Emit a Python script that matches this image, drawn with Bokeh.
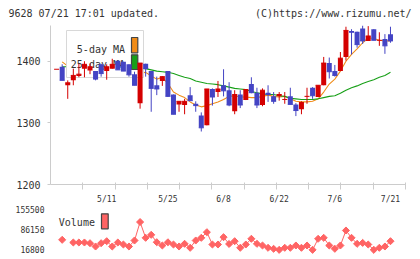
import math
from bokeh.plotting import figure
from bokeh.layouts import column
from bokeh.models import ColumnDataSource, FixedTicker, Range1d, NumeralTickFormatter
from bokeh.core.properties import value
from bokeh.embed import file_html
from bokeh.resources import INLINE

nan = float("nan")

# ---------------- data ----------------
open_ = [1387, 1391, 1361, 1369, 1376, 1388, 1385, 1384, 1395, 1384,
         1388, 1401, 1399, 1395, 1379, 1332, 1396, 1384, 1361, 1368,
         1384, 1346, 1330, 1329, 1345, 1331, 1312, 1296, 1355, 1350,
         1361, 1353, 1319, 1346, 1337, 1363, 1349, 1329, 1349, 1343,
         1343, 1338, 1343, 1330, 1322, 1343, 1357, 1342, 1361, 1397,
         1384, 1384, 1407, 1449, 1448, 1453, 1433, 1452, 1434, 1436, 1444]
high = [1387, 1395, 1369, 1388, 1396, 1400, 1396, 1384, 1396, 1395,
        1404, 1401, 1399, 1395, 1383, 1397, 1396, 1384, 1375, 1376,
        1384, 1346, 1335, 1339, 1358, 1335, 1317, 1355, 1356, 1368,
        1387, 1366, 1353, 1353, 1354, 1374, 1357, 1356, 1361, 1350,
        1350, 1350, 1357, 1332, 1335, 1357, 1358, 1361, 1407, 1406,
        1394, 1415, 1456, 1452, 1448, 1458, 1457, 1452, 1447, 1444, 1456]
low = [1387, 1369, 1339, 1361, 1374, 1374, 1379, 1369, 1375, 1370,
       1388, 1386, 1384, 1375, 1361, 1323, 1375, 1318, 1345, 1360,
       1342, 1314, 1318, 1314, 1336, 1318, 1286, 1296, 1328, 1342,
       1343, 1327, 1314, 1324, 1337, 1348, 1324, 1327, 1334, 1331,
       1336, 1331, 1330, 1311, 1314, 1331, 1339, 1342, 1361, 1372,
       1375, 1384, 1401, 1411, 1422, 1428, 1433, 1434, 1425, 1412, 1430]
close = [1387, 1369, 1365, 1377, 1379, 1395, 1391, 1371, 1380, 1391,
         1395, 1386, 1384, 1378, 1361, 1397, 1388, 1356, 1355, 1375,
         1343, 1314, 1335, 1335, 1336, 1328, 1292, 1355, 1342, 1355,
         1352, 1329, 1346, 1329, 1354, 1349, 1329, 1353, 1346, 1335,
         1346, 1338, 1330, 1320, 1333, 1343, 1344, 1361, 1397, 1383,
         1377, 1405, 1450, 1447, 1427, 1433, 1441, 1434, 1434, 1425, 1433]
ma5 = [nan, 1399, 1392, 1385, 1376, 1377, 1381, 1383, 1383, 1386,
       1386, 1385, 1387, 1387, 1381, 1381, 1382, 1376, 1371, 1374,
       1364, 1350, 1345, 1341, 1334, 1329, 1326, 1328, 1331, 1334,
       1338, 1343, 1344, 1342, 1342, 1341, 1341, 1343, 1345, 1343,
       1342, 1343, 1339, 1335, 1334, 1334, 1335, 1339, 1350, 1363,
       1371, 1384, 1400, 1411, 1420, 1430, 1438, 1437, 1434, 1433, 1433]
ma25 = [nan, 1391, 1391, 1392, 1392, 1391, 1391, 1391, 1390, 1390,
        1390, 1389, 1389, 1389, 1389, 1388, 1388, 1386, 1384, 1383,
        1382, 1380, 1377, 1374, 1372, 1368, 1366, 1364, 1363, 1362,
        1360, 1358, 1356, 1355, 1354, 1351, 1349, 1347, 1346, 1346,
        1344, 1343, 1340, 1339, 1338, 1338, 1338, 1339, 1341, 1343,
        1344, 1348, 1353, 1357, 1360, 1364, 1367, 1370, 1374, 1377, 1382]
volume = [nan, 50400, nan, 41100, 41100, 41100, 38600, 27200, 38600, 45600,
          27200, 41100, 34100, 27200, 48000, 112000, 57300, 67700, 42100, 30700,
          41800, 34100, 27200, 36500, 22700, 48000, 57300, 76800, 34100, 34100,
          59500, 36000, 45600, 22700, 34100, 53900, 36500, 30700, 22700, 19200,
          15600, 22700, 22700, 30700, 22700, 30700, 15600, 53900, 57300, 30700,
          19200, 30700, 82700, 57300, 36500, 39700, 34100, 15600, 22700, 27200, 45600]
date_tick_index = [9, 20, 30, 40, 50, 60]
date_tick_labels = ["5/11", "5/25", "6/8", "6/22", "7/6", "7/21"]
price_ticks = [1200, 1300, 1400]
volume_ticks = [16800, 86150, 155500]
ma_labels = ["5-day MA", "25-day MA"]
header_left = "9628 07/21 17:01 updated."
header_right = "(C)https://www.rizumu.net/"

# ---------------- styles ----------------
FONT = "DejaVu Sans Mono"
TXT = "#333333"
AXIS = "#cccccc"
UP = "#d40000"
DOWN = "#4444c4"
ORANGE = "#f08c18"
GREEN = "#18a018"
VOL = "#ff6464"

W = 420
FL, FR = 50, 15            # frame borders left/right (px)
HEAD_H = 25
MAIN_H, MAIN_T, MAIN_B = 166, 0, 7
VOL_H, VOL_T, VOL_B = 68, 14, 4
X0, X1 = -1.1, 62.7
Y0, Y1 = 1200, 1458
FW = W - FL - FR
FH = MAIN_H - MAIN_T - MAIN_B
FRAME_TOP = HEAD_H + MAIN_T


def dx(px):
    return X0 + (px - FL) * (X1 - X0) / FW


def dy(py):
    return Y1 - (py - FRAME_TOP) * (Y1 - Y0) / FH


N = len(close)
idx = list(range(N))
bw = 0.9
src = ColumnDataSource(dict(
    x=idx, xl=[i - bw / 2 for i in idx], xr=[i + bw / 2 for i in idx],
    open=open_, high=high, low=low, close=close,
    top=[max(o, c) for o, c in zip(open_, close)],
    bottom=[min(o, c) for o, c in zip(open_, close)],
    color=[UP if c >= o else DOWN for o, c in zip(open_, close)],
    ma5=ma5, ma25=ma25,
))

# ---------------- header ----------------
h = figure(width=W, height=HEAD_H, x_range=Range1d(0, W), y_range=Range1d(HEAD_H, 0),
           output_backend="svg", toolbar_location=None, x_axis_type=None, y_axis_type=None,
           min_border=0, min_border_left=0, min_border_right=0, min_border_top=0,
           min_border_bottom=0, frame_align=False)
h.outline_line_color = None
h.grid.visible = False
h.text(x=[8], y=[12.5], text=[header_left],
       text_font=value(FONT), text_font_size="10px", text_color=TXT,
       text_baseline="middle", text_align="left")
h.text(x=[411], y=[12.5], text=[header_right],
       text_font=value(FONT), text_font_size="10px", text_color=TXT,
       text_baseline="middle", text_align="right")

# ---------------- main price panel ----------------
p = figure(width=W, height=MAIN_H, x_range=Range1d(X0, X1), y_range=Range1d(Y0, Y1),
           output_backend="svg", toolbar_location=None, frame_align=False,
           min_border_left=FL, min_border_right=FR, min_border_top=MAIN_T,
           min_border_bottom=MAIN_B)
p.outline_line_color = None
p.grid.visible = False

p.yaxis.ticker = FixedTicker(ticks=price_ticks)
p.yaxis.axis_line_color = AXIS
p.yaxis.major_tick_line_color = AXIS
p.yaxis.major_tick_in = 0
p.yaxis.major_tick_out = 3
p.yaxis.minor_tick_line_color = None
p.yaxis.major_label_standoff = 7
p.yaxis.major_label_text_font = FONT
p.yaxis.major_label_text_font_size = "10px"
p.yaxis.major_label_text_color = TXT

p.xaxis.ticker = FixedTicker(ticks=[], minor_ticks=[X0 + k * (X1 - X0) / 11 for k in range(1, 12)])
p.xaxis.axis_line_color = AXIS
p.xaxis.major_tick_line_color = None
p.xaxis.major_tick_in = 0
p.xaxis.major_tick_out = 0
p.xaxis.minor_tick_line_color = AXIS
p.xaxis.minor_tick_in = 2
p.xaxis.minor_tick_out = 5
p.xaxis.major_label_standoff = 0

p.line("x", "ma5", source=src, color=ORANGE, line_width=1.1)
p.line("x", "ma25", source=src, color=GREEN, line_width=1.1)

# legend box (drawn under the candles, as in the original)
p.quad(left=[dx(66)], right=[dx(143)], top=[dy(30)], bottom=[dy(77)],
       fill_color="white", line_color="#d8d8d8", line_width=1)
p.text(x=[dx(124.5), dx(124.5)], y=[dy(48.5), dy(64)], text=ma_labels,
       text_font=value(FONT), text_font_size="10px", text_color=TXT,
       text_align="right", text_baseline="alphabetic")
p.quad(left=[dx(131), dx(131)], right=[dx(137.3), dx(137.3)],
       top=[dy(37), dy(54.3)], bottom=[dy(52.3), dy(69)],
       fill_color=[ORANGE, GREEN], line_color="#444444", line_width=1.2)

# candles
p.segment(x0="x", x1="x", y0="low", y1="high", source=src, color="color", line_width=1)
p.vbar(x="x", width=bw, top="top", bottom="bottom", source=src,
       fill_color="color", line_color=None)
p.segment(x0="xl", x1="xr", y0="close", y1="close", source=src, color="color", line_width=1)

# ---------------- volume panel ----------------
VOL_TOP_CANVAS = HEAD_H + MAIN_H + VOL_T
VOL_PX = (155500 - 16800) / 40.0   # value per pixel
VY1 = 155500 + (209 - VOL_TOP_CANVAS) * VOL_PX
VY0 = VY1 - (VOL_H - VOL_T - VOL_B) * VOL_PX


def vy(py):
    return VY1 - (py - VOL_TOP_CANVAS) * VOL_PX


v = figure(width=W, height=VOL_H, x_range=p.x_range, y_range=Range1d(VY0, VY1),
           output_backend="svg", toolbar_location=None, x_axis_location="above",
           frame_align=False,
           min_border_left=FL, min_border_right=FR, min_border_top=VOL_T,
           min_border_bottom=VOL_B)
v.outline_line_color = None
v.grid.visible = False

v.xaxis.ticker = FixedTicker(ticks=date_tick_index)
v.xaxis.major_label_overrides = {i: l for i, l in zip(date_tick_index, date_tick_labels)}
v.xaxis.axis_line_color = None
v.xaxis.major_tick_line_color = None
v.xaxis.minor_tick_line_color = None
v.xaxis.major_tick_in = 0
v.xaxis.major_tick_out = 0
v.xaxis.minor_tick_in = 0
v.xaxis.minor_tick_out = 0
v.xaxis.major_label_standoff = 2
v.xaxis.major_label_text_font = FONT
v.xaxis.major_label_text_font_size = "8px"
v.xaxis.major_label_text_color = TXT

v.yaxis.ticker = FixedTicker(ticks=volume_ticks)
v.yaxis.formatter = NumeralTickFormatter(format="0")
v.yaxis.axis_line_color = None
v.yaxis.major_tick_line_color = None
v.yaxis.minor_tick_line_color = None
v.yaxis.major_tick_in = 0
v.yaxis.major_tick_out = 0
v.yaxis.major_label_standoff = 6
v.yaxis.major_label_text_font = FONT
v.yaxis.major_label_text_font_size = "8px"
v.yaxis.major_label_text_color = TXT

v.line(idx, volume, color=VOL, line_width=1)
v.scatter(idx, volume, marker="square", size=5, angle=math.pi / 4, color=VOL)

v.text(x=[dx(58.3)], y=[vy(222.3)], text=["Volume"], text_font=value(FONT),
       text_font_size="10px", text_color=TXT, text_baseline="middle")
v.quad(left=[dx(101)], right=[dx(107.7)], top=[vy(213.3)], bottom=[vy(228.3)],
       fill_color=VOL, line_color="#444444", line_width=1.2)

layout = column(h, p, v, spacing=0)
open("out.html", "w").write(file_html(layout, INLINE))
